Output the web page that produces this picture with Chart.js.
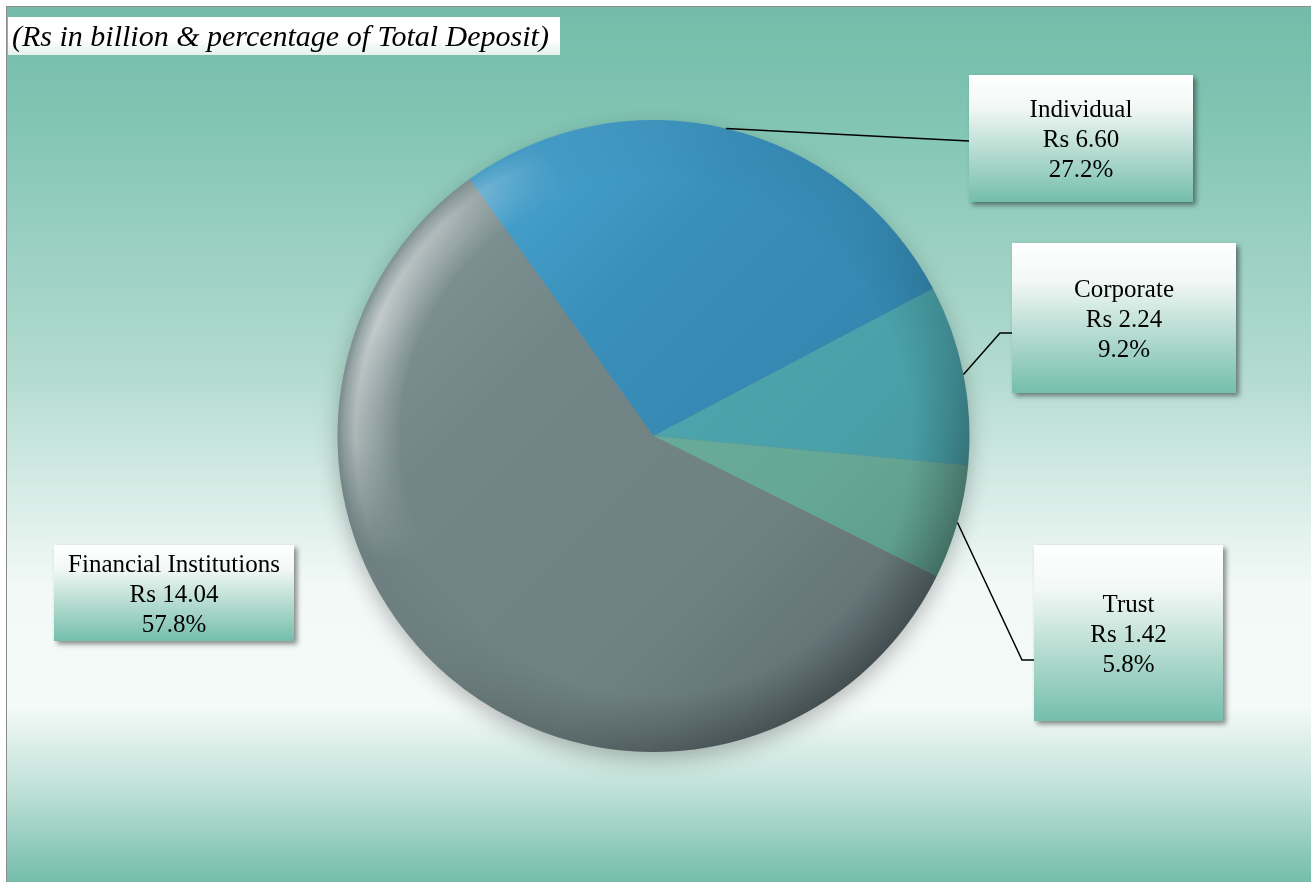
<!DOCTYPE html>
<html>
<head>
<meta charset="utf-8">
<script src="https://cdn.jsdelivr.net/npm/chart.js@4"></script>
<style>
  html, body { margin: 0; padding: 0; background: #ffffff; }
  #wrap { position: relative; width: 1311px; height: 882px; }
</style>
</head>
<body>
<div id="wrap"><canvas id="chart" width="1311" height="882"></canvas></div>
<script>
// data
const categories = ['Individual', 'Corporate', 'Trust', 'Financial Institutions'];
const amounts = [6.60, 2.24, 1.42, 14.04];          // Rs in billion
const percents = ['27.2%', '9.2%', '5.8%', '57.8%'];
const subtitle = '(Rs in billion & percentage of Total Deposit)';

// slice colours: [light, base, mid, dark]
const sliceColors = [
  ['#55B4E0', '#3990BB', '#3385AD', '#276F93'],
  ['#5AB0B7', '#4FA7AE', '#4AA0A8', '#3E878D'],
  ['#74B5A3', '#6BAD9B', '#66A896', '#548E7E'],
  ['#8A9C9F', '#738687', '#6F8182', '#56646A']
];

// label box layout (page pixels)
const boxes = [
  { x: 969, y: 75, w: 224, h: 127, line: [[969, 141]] },
  { x: 1012, y: 243, w: 224, h: 150, line: [[1000, 333], [1012, 333]] },
  { x: 1034, y: 545, w: 189, h: 176, line: [[1022, 660], [1034, 660]] },
  { x: 54, y: 545, w: 240, h: 96, line: null }
];

const FONT = '"Liberation Serif", "Times New Roman", serif';

function sliceFill(context) {
  const chart = context.chart;
  const c = sliceColors[context.dataIndex];
  const area = chart.chartArea;
  if (!area) return c[1];
  const g = chart.ctx.createLinearGradient(area.left, area.top, area.right, area.bottom);
  g.addColorStop(0, c[0]);
  g.addColorStop(0.35, c[1]);
  g.addColorStop(0.65, c[2]);
  g.addColorStop(1, c[3]);
  return g;
}

const backgroundPlugin = {
  id: 'bg',
  beforeDraw(chart) {
    const ctx = chart.ctx;
    const W = chart.width, H = chart.height;
    ctx.save();
    const g = ctx.createLinearGradient(0, 7, 0, H);
    g.addColorStop(0, '#74BCA9');
    g.addColorStop(0.12, '#80C4B2');
    g.addColorStop(0.42, '#B3DBD0');
    g.addColorStop(0.66, '#F2F9F7');
    g.addColorStop(0.8, '#F4FAF8');
    g.addColorStop(0.9, '#BCDFD5');
    g.addColorStop(1, '#74BDAA');
    ctx.fillStyle = g;
    ctx.fillRect(7, 7, W - 7, H - 7);
    ctx.strokeStyle = '#8C8C8C';
    ctx.lineWidth = 1;
    ctx.strokeRect(6.5, 6.5, W, H);

    // subtitle box
    const tg = ctx.createLinearGradient(0, 17, 0, 55);
    tg.addColorStop(0, '#FFFFFF');
    tg.addColorStop(0.6, '#FFFFFF');
    tg.addColorStop(1, '#E2F1EC');
    ctx.fillStyle = tg;
    ctx.fillRect(8, 17, 552, 38);
    ctx.fillStyle = '#000000';
    ctx.font = 'italic 30px ' + FONT;
    ctx.textBaseline = 'alphabetic';
    ctx.textAlign = 'left';
    ctx.fillText(subtitle, 12, 46);
    ctx.restore();
  },
  beforeDatasetsDraw(chart) {
    const arc = chart.getDatasetMeta(0).data[0];
    if (!arc) return;
    const ctx = chart.ctx;
    ctx.save();
    ctx.shadowColor = 'rgba(0,0,0,0.28)';
    ctx.shadowBlur = 22;
    ctx.shadowOffsetY = 8;
    ctx.fillStyle = '#6F8282';
    ctx.beginPath();
    ctx.arc(arc.x, arc.y, arc.outerRadius - 1, 0, Math.PI * 2);
    ctx.fill();
    ctx.restore();
  },
  afterDatasetsDraw(chart) {
    const arc = chart.getDatasetMeta(0).data[0];
    if (!arc) return;
    const ctx = chart.ctx;
    const cx = arc.x, cy = arc.y, R = arc.outerRadius;
    // bevel: light rim on the left, dark rim bottom-right
    const off = document.createElement('canvas');
    off.width = chart.width; off.height = chart.height;
    const o = off.getContext('2d');
    const rg = o.createRadialGradient(cx, cy, R * 0.8, cx, cy, R);
    rg.addColorStop(0, 'rgba(255,255,255,0)');
    rg.addColorStop(0.72, 'rgba(255,255,255,0.6)');
    rg.addColorStop(0.9, 'rgba(255,255,255,0.3)');
    rg.addColorStop(1, 'rgba(255,255,255,0.05)');
    o.fillStyle = rg;
    o.beginPath(); o.arc(cx, cy, R, 0, Math.PI * 2); o.fill();
    o.globalCompositeOperation = 'destination-in';
    const mx = cx - R * 0.85, my = cy - R * 0.35;
    const mg = o.createRadialGradient(mx, my, 0, mx, my, R * 0.75);
    mg.addColorStop(0, 'rgba(0,0,0,1)');
    mg.addColorStop(0.5, 'rgba(0,0,0,0.7)');
    mg.addColorStop(1, 'rgba(0,0,0,0)');
    o.fillStyle = mg;
    o.fillRect(0, 0, off.width, off.height);
    ctx.drawImage(off, 0, 0);

    const off2 = document.createElement('canvas');
    off2.width = chart.width; off2.height = chart.height;
    const o2 = off2.getContext('2d');
    const dg = o2.createRadialGradient(cx, cy, R * 0.82, cx, cy, R);
    dg.addColorStop(0, 'rgba(0,0,0,0)');
    dg.addColorStop(1, 'rgba(0,0,0,0.3)');
    o2.fillStyle = dg;
    o2.beginPath(); o2.arc(cx, cy, R, 0, Math.PI * 2); o2.fill();
    o2.globalCompositeOperation = 'destination-in';
    const mg2 = o2.createLinearGradient(cx, cy, cx + R * 0.7, cy + R * 0.7);
    mg2.addColorStop(0, 'rgba(0,0,0,0.15)');
    mg2.addColorStop(1, 'rgba(0,0,0,1)');
    o2.fillStyle = mg2;
    o2.fillRect(0, 0, off2.width, off2.height);
    ctx.drawImage(off2, 0, 0);
  },
  afterDraw(chart) {
    const ctx = chart.ctx;
    const meta = chart.getDatasetMeta(0);
    ctx.save();
    meta.data.forEach((arc, i) => {
      const b = boxes[i];
      // leader line from the slice's mid angle
      if (b.line) {
        const mid = (arc.startAngle + arc.endAngle) / 2;
        const sx = arc.x + Math.cos(mid) * arc.outerRadius;
        const sy = arc.y + Math.sin(mid) * arc.outerRadius;
        ctx.strokeStyle = '#000000';
        ctx.lineWidth = 1.5;
        ctx.beginPath();
        ctx.moveTo(sx, sy);
        b.line.forEach(p => ctx.lineTo(p[0], p[1]));
        ctx.stroke();
      }
      // box with shadow
      ctx.save();
      ctx.shadowColor = 'rgba(0,0,0,0.45)';
      ctx.shadowBlur = 5;
      ctx.shadowOffsetX = 3;
      ctx.shadowOffsetY = 3;
      const g = ctx.createLinearGradient(0, b.y, 0, b.y + b.h);
      g.addColorStop(0, '#FFFFFF');
      g.addColorStop(0.25, '#F2F8F6');
      g.addColorStop(0.55, '#BFE0D6');
      g.addColorStop(1, '#74BEAB');
      ctx.fillStyle = g;
      ctx.fillRect(b.x, b.y, b.w, b.h);
      ctx.restore();
      // text
      const cxT = b.x + b.w / 2;
      const cyT = b.y + b.h / 2 + 2;
      ctx.fillStyle = '#000000';
      ctx.font = '25px ' + FONT;
      ctx.textAlign = 'center';
      ctx.textBaseline = 'middle';
      const lines = [categories[i], 'Rs ' + amounts[i].toFixed(2), percents[i]];
      lines.forEach((t, k) => ctx.fillText(t, cxT, cyT + (k - 1) * 30));
    });
    ctx.restore();
  }
};

new Chart(document.getElementById('chart'), {
  type: 'pie',
  data: {
    labels: categories,
    datasets: [{
      data: amounts,
      backgroundColor: sliceFill,
      borderWidth: 0
    }]
  },
  options: {
    responsive: false,
    animation: false,
    rotation: -35.6,
    layout: { padding: { left: 337, right: 341, top: 120, bottom: 130 } },
    plugins: {
      legend: { display: false },
      tooltip: { enabled: false }
    }
  },
  plugins: [backgroundPlugin]
});
</script>
</body>
</html>
